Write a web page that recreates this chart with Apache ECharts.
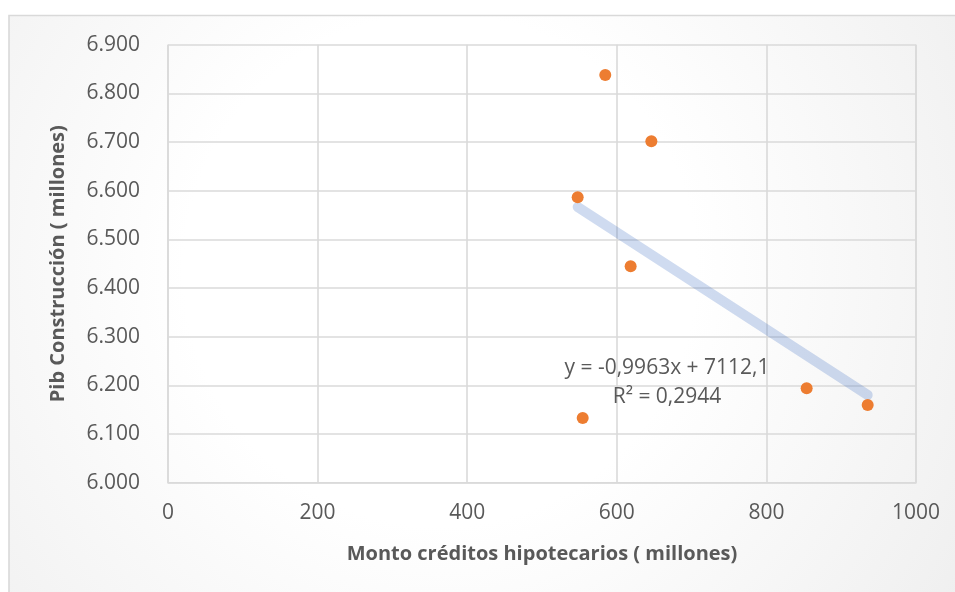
<!DOCTYPE html>
<html>
<head>
<meta charset="utf-8">
<script src="https://cdn.jsdelivr.net/npm/echarts@6/dist/echarts.min.js"></script>
<style>
  html, body { margin: 0; padding: 0; background: #ffffff; }
  #chart { width: 955px; height: 592px; }
</style>
</head>
<body>
<div id="chart"></div>
<script>
// Monto de créditos hipotecarios vs. PIB de la construcción (millones)
const montoCreditos = [584.6, 646.2, 547.7, 618.5, 554.4, 853.8, 935.4];
const pibConstruccion = [6837.7, 6701.5, 6586.4, 6444.7, 6133.0, 6194.0, 6159.7];

// Linear trend line as reported: y = -0,9963x + 7112,1 ; R² = 0,2944
const trendCoef = [-0.9963, 7112.1];
const trendR2 = [0.2944];

const xTicks = [0, 200, 400, 600, 800, 1000];
const yTicks = [6000, 6100, 6200, 6300, 6400, 6500, 6600, 6700, 6800, 6900];

// Spanish number format: '.' thousands, ',' decimals
const fmtEs = (v, dec, group) => {
  const parts = Math.abs(v).toFixed(dec).split('.');
  const intPart = group ? parts[0].replace(/\B(?=(\d{3})+(?!\d))/g, '.') : parts[0];
  return (v < 0 ? '-' : '') + intPart + (parts[1] ? ',' + parts[1] : '');
};

const points = montoCreditos.map((x, i) => [x, pibConstruccion[i]]);
const xMin = Math.min(...montoCreditos);
const xMax = Math.max(...montoCreditos);
const trendLine = [xMin, xMax].map(x => [x, trendCoef[0] * x + trendCoef[1]]);

const FONT = '"Open Sans", "DejaVu Sans", sans-serif';
const TXT = '#595959';
const GRID_LINE = { color: '#dadada', width: 1.6 };

const chart = echarts.init(document.getElementById('chart'), null, { renderer: 'canvas' });

chart.setOption({
  animation: false,
  backgroundColor: 'transparent',
  grid: { left: 168, right: 39, top: 44.7, bottom: 109.3, containLabel: false },
  xAxis: {
    type: 'value',
    min: xTicks[0], max: xTicks[xTicks.length - 1], interval: 200,
    name: 'Monto créditos hipotecarios ( millones)',
    nameLocation: 'middle', nameGap: 62,
    nameTextStyle: { color: TXT, fontFamily: FONT, fontSize: 20, fontWeight: 'bold' },
    axisLine: { show: false },
    axisTick: { show: false },
    axisLabel: { color: TXT, fontFamily: FONT, fontSize: 21, margin: 20, formatter: v => String(v) },
    splitLine: { show: true, lineStyle: GRID_LINE }
  },
  yAxis: {
    type: 'value',
    min: yTicks[0], max: yTicks[yTicks.length - 1], interval: 100,
    name: 'Pib Construcción ( millones)',
    nameLocation: 'middle', nameGap: 100,
    nameTextStyle: { color: TXT, fontFamily: FONT, fontSize: 20, fontWeight: 'bold' },
    axisLine: { show: false },
    axisTick: { show: false },
    axisLabel: {
      color: TXT, fontFamily: FONT, fontSize: 21, margin: 28,
      formatter: v => fmtEs(v, 0, true)
    },
    splitLine: { show: true, lineStyle: GRID_LINE }
  },
  series: [
    {
      type: 'line',
      data: trendLine,
      symbol: 'none',
      silent: true,
      z: 2,
      lineStyle: { color: 'rgba(68,114,196,0.26)', width: 10, cap: 'round' }
    },
    {
      type: 'scatter',
      data: points,
      symbol: 'circle',
      symbolSize: 12,
      z: 3,
      itemStyle: { color: '#ED7D31', opacity: 1 }
    }
  ]
});

// Chart frame with soft radial fill, plot-area border and trend-line equation
const grid = chart.getModel().getComponent('grid').coordinateSystem.getRect();
chart.setOption({
  graphic: [
    {
      type: 'rect',
      z: -10,
      silent: true,
      shape: { x: 9, y: 15.5, width: 960, height: 600 },
      style: {
        fill: {
          type: 'radial', x: 440, y: 270, r: 640, global: true,
          colorStops: [
            { offset: 0, color: '#ffffff' },
            { offset: 0.4, color: '#ffffff' },
            { offset: 1, color: '#eeeeee' }
          ]
        },
        stroke: '#d9d9d9',
        lineWidth: 1.6
      }
    },
    {
      type: 'polyline',
      z: 1, silent: true,
      shape: { points: [[grid.x, grid.y], [grid.x, grid.y + grid.height], [grid.x + grid.width, grid.y + grid.height], [grid.x + grid.width, grid.y]] },
      style: { stroke: GRID_LINE.color, lineWidth: GRID_LINE.width, fill: null }
    },
    {
      type: 'text',
      z: 10, silent: true,
      x: 667, y: 368,
      style: {
        text: 'y = ' + fmtEs(trendCoef[0], 4, false) + 'x + ' + fmtEs(trendCoef[1], 1, false),
        align: 'center', verticalAlign: 'middle',
        fill: TXT, font: '21px ' + FONT
      }
    },
    {
      type: 'text',
      z: 10, silent: true,
      x: 667, y: 397,
      style: {
        text: 'R² = ' + fmtEs(trendR2[0], 4, false),
        align: 'center', verticalAlign: 'middle',
        fill: TXT, font: '21px ' + FONT
      }
    }
  ]
});
</script>
</body>
</html>
